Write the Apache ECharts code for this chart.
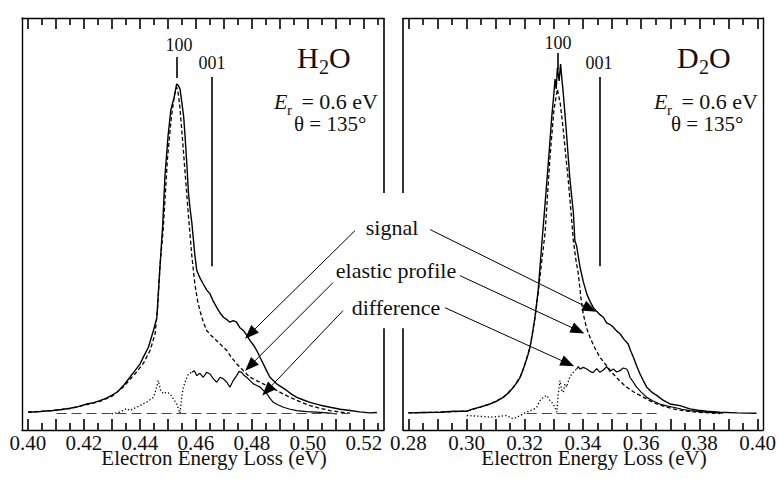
<!DOCTYPE html>
<html>
<head>
<meta charset="utf-8">
<script src="https://cdn.jsdelivr.net/npm/echarts@6/dist/echarts.min.js"></script>
<style>
  html, body { margin: 0; padding: 0; background: #fff; }
  #chart { width: 779px; height: 479px; }
</style>
</head>
<body>
<div id="chart"></div>
<script>
// H2O panel
const h2oSignalE = [0.4000, 0.4045, 0.4090, 0.4120, 0.4150, 0.4180, 0.4210, 0.4235, 0.4257, 0.4280, 0.4299, 0.4320, 0.4340, 0.4364, 0.4382, 0.4400, 0.4412, 0.4430, 0.4448, 0.4460, 0.4468, 0.4474, 0.4481, 0.4489, 0.4500, 0.4510, 0.4522, 0.4531, 0.4537, 0.4543, 0.4550, 0.4556, 0.4561, 0.4567, 0.4573, 0.4579, 0.4585, 0.4596, 0.4603, 0.4615, 0.4626, 0.4638, 0.4650, 0.4662, 0.4674, 0.4686, 0.4698, 0.4710, 0.4721, 0.4733, 0.4745, 0.4757, 0.4769, 0.4781, 0.4793, 0.4805, 0.4817, 0.4829, 0.4840, 0.4852, 0.4864, 0.4876, 0.4888, 0.4906, 0.4924, 0.4942, 0.4960, 0.4984, 0.5007, 0.5040, 0.5079, 0.5115, 0.5150, 0.5185, 0.5221, 0.5246];
const h2oSignalV = [0.4, 0.6, 0.9, 1.2, 1.6, 2.1, 2.9, 3.3, 3.9, 4.7, 5.5, 6.6, 8.4, 11.0, 13.0, 15.0, 17.1, 20.1, 25.2, 29.0, 40.0, 48.0, 57.0, 72.0, 84.0, 92.0, 96.0, 100.0, 99.5, 98.5, 94.0, 90.0, 84.0, 76.0, 67.0, 62.0, 58.0, 48.0, 43.3, 41.0, 39.3, 37.5, 36.3, 34.0, 32.2, 30.5, 29.2, 28.5, 27.7, 28.2, 27.7, 26.0, 25.2, 23.8, 22.1, 20.8, 19.1, 17.0, 15.1, 13.0, 11.0, 10.0, 9.0, 8.0, 7.0, 5.8, 4.9, 4.1, 3.4, 2.6, 1.9, 1.3, 0.9, 0.5, 0.2, 0.3];

const h2oElasticE = [0.4000, 0.4090, 0.4150, 0.4210, 0.4257, 0.4299, 0.4340, 0.4364, 0.4382, 0.4412, 0.4436, 0.4454, 0.4463, 0.4471, 0.4483, 0.4498, 0.4512, 0.4524, 0.4531, 0.4537, 0.4543, 0.4552, 0.4561, 0.4573, 0.4585, 0.4596, 0.4605, 0.4614, 0.4626, 0.4638, 0.4656, 0.4674, 0.4692, 0.4710, 0.4727, 0.4745, 0.4769, 0.4793, 0.4816, 0.4840, 0.4864, 0.4888, 0.4912, 0.4936, 0.4971, 0.5007, 0.5043, 0.5079, 0.5115, 0.5150];
const h2oElasticV = [0.4, 0.9, 1.5, 2.7, 3.7, 5.2, 8.0, 10.3, 12.0, 15.2, 19.1, 24.2, 32.0, 44.3, 56.1, 77.3, 90.0, 97.0, 99.0, 97.0, 92.4, 83.0, 73.1, 60.0, 47.9, 39.3, 34.5, 31.2, 27.8, 25.2, 23.5, 22.1, 20.6, 19.1, 17.0, 15.1, 13.0, 11.0, 10.0, 9.0, 8.0, 7.0, 5.9, 4.9, 3.6, 2.4, 1.6, 0.9, 0.4, 0.1];

const h2oDiffDotE = [0.4299, 0.4330, 0.4352, 0.4364, 0.4385, 0.4400, 0.4411, 0.4424, 0.4436, 0.4448, 0.4458, 0.4465, 0.4474, 0.4483, 0.4495, 0.4507, 0.4519, 0.4531, 0.4543, 0.4549, 0.4555, 0.4565, 0.4573, 0.4585];
const h2oDiffDotV = [-0.1, 0.5, 1.5, 0.9, 1.8, 2.4, 3.0, 3.4, 4.2, 4.9, 7.5, 10.0, 7.0, 6.0, 6.5, 6.0, 4.5, 2.9, 0.1, 5.0, 8.0, 10.5, 12.0, 12.5];

const h2oDiffE = [0.4585, 0.4594, 0.4603, 0.4614, 0.4626, 0.4638, 0.4650, 0.4662, 0.4674, 0.4686, 0.4698, 0.4710, 0.4721, 0.4733, 0.4745, 0.4754, 0.4763, 0.4772, 0.4781, 0.4793, 0.4805, 0.4817, 0.4829, 0.4841, 0.4853, 0.4865, 0.4876, 0.4894, 0.4912, 0.4936, 0.4960, 0.4995, 0.5031, 0.5067, 0.5103];
const h2oDiffV = [12.5, 13.0, 11.5, 12.2, 11.0, 12.5, 12.0, 10.5, 9.5, 11.0, 10.5, 9.5, 8.0, 10.0, 11.5, 12.8, 12.5, 11.5, 11.0, 10.0, 9.0, 8.5, 8.0, 7.0, 6.0, 4.5, 3.4, 2.6, 1.9, 1.3, 0.9, 0.6, 0.4, 0.2, -0.1];

const h2oBaseE = [0.4102, 0.5143];

// D2O panel
const d2oSignalE = [0.2800, 0.2850, 0.2909, 0.2955, 0.3001, 0.3023, 0.3050, 0.3081, 0.3105, 0.3126, 0.3145, 0.3161, 0.3175, 0.3184, 0.3193, 0.3201, 0.3210, 0.3218, 0.3227, 0.3235, 0.3246, 0.3258, 0.3270, 0.3281, 0.3292, 0.3300, 0.3304, 0.3308, 0.3312, 0.3318, 0.3323, 0.3328, 0.3332, 0.3338, 0.3344, 0.3350, 0.3355, 0.3361, 0.3367, 0.3372, 0.3378, 0.3384, 0.3390, 0.3401, 0.3413, 0.3424, 0.3435, 0.3447, 0.3458, 0.3470, 0.3481, 0.3493, 0.3504, 0.3516, 0.3527, 0.3541, 0.3555, 0.3564, 0.3573, 0.3584, 0.3596, 0.3607, 0.3619, 0.3636, 0.3653, 0.3676, 0.3699, 0.3733, 0.3767, 0.3795, 0.3825, 0.3870, 0.3930, 0.3996];
const d2oSignalV = [0.2, 0.3, 0.4, 0.7, 0.7, 1.4, 2.0, 2.9, 3.8, 4.9, 6.3, 8.0, 9.6, 11.0, 13.0, 15.1, 17.5, 20.1, 24.5, 29.2, 37.3, 50.9, 64.0, 76.2, 89.3, 97.0, 101.5, 98.5, 104.9, 100.9, 106.0, 101.0, 97.4, 91.0, 84.2, 77.0, 71.2, 66.0, 61.0, 52.4, 50.9, 47.5, 44.3, 40.0, 36.3, 34.0, 32.2, 31.0, 30.0, 29.2, 27.5, 27.0, 26.2, 25.0, 24.2, 22.5, 21.1, 19.0, 17.1, 14.5, 12.0, 10.0, 8.0, 6.5, 5.5, 4.0, 2.9, 2.4, 1.4, 1.0, 0.7, 0.4, 0.2, 0.1];

const d2oElasticE = [0.2800, 0.2909, 0.3001, 0.3081, 0.3126, 0.3161, 0.3184, 0.3201, 0.3218, 0.3235, 0.3246, 0.3258, 0.3270, 0.3287, 0.3300, 0.3312, 0.3322, 0.3332, 0.3340, 0.3349, 0.3358, 0.3367, 0.3375, 0.3384, 0.3393, 0.3401, 0.3412, 0.3424, 0.3441, 0.3458, 0.3481, 0.3504, 0.3527, 0.3550, 0.3573, 0.3596, 0.3625, 0.3653, 0.3681, 0.3710, 0.3750, 0.3790, 0.3870];
const d2oElasticV = [0.2, 0.4, 0.7, 2.9, 4.9, 8.0, 11.0, 15.1, 20.1, 29.0, 36.5, 46.0, 55.0, 78.2, 92.0, 98.4, 94.0, 86.3, 79.0, 71.2, 62.0, 52.4, 47.0, 42.3, 35.0, 30.2, 26.0, 23.1, 19.8, 17.1, 14.5, 12.0, 9.8, 8.0, 6.6, 5.5, 4.1, 2.9, 2.1, 1.4, 0.8, 0.4, 0.0];

const d2oDiffDotE = [0.3001, 0.3040, 0.3081, 0.3110, 0.3138, 0.3150, 0.3161, 0.3180, 0.3195, 0.3207, 0.3218, 0.3230, 0.3241, 0.3252, 0.3264, 0.3275, 0.3287, 0.3298, 0.3310, 0.3315, 0.3321, 0.3327, 0.3332, 0.3338, 0.3344, 0.3352, 0.3361, 0.3370, 0.3378];
const d2oDiffDotV = [-0.6, -0.8, -1.1, -0.9, -0.6, -1.2, -1.6, -0.8, -0.1, 0.4, 0.9, 1.2, 1.9, 3.9, 4.9, 5.5, 3.9, 2.9, 0.4, 6.0, 10.0, 7.0, 6.4, 9.0, 8.0, 10.5, 12.0, 12.8, 13.5];

const d2oDiffE = [0.3378, 0.3384, 0.3390, 0.3401, 0.3413, 0.3424, 0.3435, 0.3447, 0.3458, 0.3470, 0.3481, 0.3493, 0.3504, 0.3516, 0.3527, 0.3538, 0.3550, 0.3556, 0.3561, 0.3573, 0.3584, 0.3600, 0.3619, 0.3641, 0.3664, 0.3687, 0.3710, 0.3740, 0.3767, 0.3820, 0.3881];
const d2oDiffV = [13.5, 14.2, 13.5, 14.0, 13.5, 12.8, 12.4, 13.6, 12.5, 13.2, 14.2, 12.8, 13.5, 12.6, 13.0, 13.8, 13.5, 12.5, 11.0, 9.5, 8.0, 6.5, 4.9, 3.8, 2.9, 2.3, 1.9, 1.3, 0.9, 0.4, 0.1];

const d2oBaseE = [0.3207, 0.3653];

// tick values
const h2oMajor = [0.40, 0.41, 0.42, 0.43, 0.44, 0.45, 0.46, 0.47, 0.48, 0.49, 0.50, 0.51, 0.52];
const h2oMinor = [0.405, 0.415, 0.425, 0.435, 0.445, 0.455, 0.465, 0.475, 0.485, 0.495, 0.505, 0.515, 0.525];
const d2oMajor = [0.28, 0.29, 0.30, 0.31, 0.32, 0.33, 0.34, 0.35, 0.36, 0.37, 0.38, 0.39, 0.40];
const d2oMinor = [0.285, 0.295, 0.305, 0.315, 0.325, 0.335, 0.345, 0.355, 0.365, 0.375, 0.385, 0.395];
// labelled range, every 0.02
const h2oLabelRange = [0.40, 0.52];
const d2oLabelRange = [0.28, 0.40];

// peak marks: [position, top, bottom]
const h2oMark100 = [0.4533, 108.2, 101.8];
const h2oMark001 = [0.4656, 102.1, 44.7];
const d2oMark100 = [0.3312, 109.4, 104.2];
const d2oMark001 = [0.3457, 102.1, 44.7];

// arrows: [fromE, fromV, toE, toV] for signal, elastic, difference
const h2oArrows = [[0.5168, 55.5, 0.4793, 24.2], [0.5089, 39.7, 0.4793, 14.5], [0.5125, 31.2, 0.4854, 7.0]];
const d2oArrows = [[0.2875, 55.8, 0.3424, 31.8], [0.2978, 41.8, 0.3383, 25.2], [0.2926, 32.1, 0.3348, 15.2]];

// frame extents
const H2O_MIN = 0.39786, H2O_MAX = 0.52714;
const D2O_MIN = 0.27818, D2O_MAX = 0.40182;
const Y_MIN = -5, Y_MAX = 120;
const GAP_TOP = 66.9, GAP_BOTTOM = 25.9;

const FONT = '"Liberation Serif", "DejaVu Serif", serif';
const zip = (a, b) => a.map((v, i) => [v, b[i]]);

const PX_H2O = 2800, PX_D2O = 2912;
const TOP = 18, HEIGHT = 412;
const PX_Y = HEIGHT / (Y_MAX - Y_MIN);

function labelGrid(frameLeft, frameMin, px, range) {
  return {
    left: frameLeft + (range[0] - frameMin) * px,
    width: (range[1] - range[0]) * px,
    top: TOP, height: HEIGHT
  };
}

function frameX(grid, pos, min, max) {
  return {
    type: 'value', gridIndex: grid, position: pos, min: min, max: max,
    axisLine: { show: true, onZero: false, lineStyle: { color: '#000', width: 1.4 } },
    axisTick: { show: false }, axisLabel: { show: false }, splitLine: { show: false }
  };
}

function labelX(grid, range) {
  return {
    type: 'value', gridIndex: grid, position: 'bottom', min: range[0], max: range[1], interval: 0.02,
    axisLine: { show: false, onZero: false }, axisTick: { show: false },
    axisLabel: {
      show: true, margin: 2, color: '#111', fontFamily: FONT, fontSize: 21,
      formatter: v => v.toFixed(2)
    },
    splitLine: { show: false }
  };
}

function frameY(grid, pos) {
  return {
    type: 'value', gridIndex: grid, position: pos, min: Y_MIN, max: Y_MAX,
    axisLine: { show: true, onZero: false, lineStyle: { color: '#000', width: 1.4 } },
    axisTick: { show: false }, axisLabel: { show: false }, splitLine: { show: false }
  };
}

function hiddenY(grid) {
  return { type: 'value', gridIndex: grid, show: false, min: Y_MIN, max: Y_MAX };
}

function seg(a, b) {
  return [{ coord: a }, { coord: b }];
}

// inward tick segments on the bottom and top edges, in data units
function tickSegs(values, lenPx) {
  const len = lenPx / PX_Y;
  const out = [];
  values.forEach(v => {
    out.push(seg([v, Y_MIN], [v, Y_MIN + len]));
    out.push(seg([v, Y_MAX], [v, Y_MAX - len]));
  });
  return out;
}

function panelSeries(xi, yi, s, el, dd, df, base, mark100, mark001, arrows, edgeX, major, minor) {
  const common = { type: 'line', xAxisIndex: xi, yAxisIndex: yi, symbol: 'none', silent: true, animation: false };
  return [
    Object.assign({}, common, { data: s, lineStyle: { color: '#000', width: 1.4 } }),
    Object.assign({}, common, { data: el, lineStyle: { color: '#000', width: 1.3, type: [4, 2.5] } }),
    Object.assign({}, common, { data: dd, lineStyle: { color: '#000', width: 1.3, type: [1.3, 2.2] } }),
    Object.assign({}, common, { data: df, lineStyle: { color: '#000', width: 1.2 } }),
    Object.assign({}, common, {
      data: base.map(e => [e, 0]), clip: false,
      lineStyle: { color: '#444', width: 1, type: [10, 5] },
      markLine: {
        silent: true, animation: false, symbol: ['none', 'none'], precision: 6,
        label: { show: false },
        lineStyle: { color: '#000', width: 1.6, type: 'solid' },
        emphasis: { disabled: true },
        data: [
          seg([mark100[0], mark100[1]], [mark100[0], mark100[2]]),
          seg([mark001[0], mark001[1]], [mark001[0], mark001[2]]),
          seg([edgeX, Y_MAX], [edgeX, GAP_TOP]),
          seg([edgeX, GAP_BOTTOM], [edgeX, Y_MIN])
        ].concat(tickSegs(major, 11), tickSegs(minor, 7))
      }
    }),
    Object.assign({}, common, {
      data: [], clip: false,
      markLine: {
        silent: true, animation: false, symbol: ['none', 'triangle'], symbolSize: [11, 14],
        label: { show: false },
        lineStyle: { color: '#000', width: 1, type: 'solid' },
        itemStyle: { color: '#000' },
        emphasis: { disabled: true },
        data: arrows.map(a => seg([a[0], a[1]], [a[2], a[3]]))
      }
    })
  ];
}

function txt(x, y, text, size, align, italic) {
  return {
    type: 'text', x: x, y: y, silent: true,
    style: {
      text: text, fill: '#111', font: (italic ? 'italic ' : '') + size + 'px ' + FONT,
      textAlign: align || 'center', textVerticalAlign: 'middle'
    }
  };
}

const chart = echarts.init(document.getElementById('chart'), null, { renderer: 'svg' });
chart.setOption({
  animation: false,
  grid: [
    { left: 22, top: TOP, width: 362, height: HEIGHT },
    { left: 403, top: TOP, width: 360, height: HEIGHT },
    labelGrid(22, H2O_MIN, PX_H2O, h2oLabelRange),
    labelGrid(403, D2O_MIN, PX_D2O, d2oLabelRange)
  ],
  xAxis: [
    frameX(0, 'bottom', H2O_MIN, H2O_MAX),
    frameX(0, 'top', H2O_MIN, H2O_MAX),
    frameX(1, 'bottom', D2O_MIN, D2O_MAX),
    frameX(1, 'top', D2O_MIN, D2O_MAX),
    labelX(2, h2oLabelRange),
    labelX(3, d2oLabelRange)
  ],
  yAxis: [frameY(0, 'left'), frameY(1, 'right'), hiddenY(2), hiddenY(3)],
  series: [].concat(
    panelSeries(0, 0, zip(h2oSignalE, h2oSignalV), zip(h2oElasticE, h2oElasticV),
      zip(h2oDiffDotE, h2oDiffDotV), zip(h2oDiffE, h2oDiffV), h2oBaseE,
      h2oMark100, h2oMark001, h2oArrows, H2O_MAX, h2oMajor, h2oMinor),
    panelSeries(2, 1, zip(d2oSignalE, d2oSignalV), zip(d2oElasticE, d2oElasticV),
      zip(d2oDiffDotE, d2oDiffDotV), zip(d2oDiffE, d2oDiffV), d2oBaseE,
      d2oMark100, d2oMark001, d2oArrows, D2O_MIN, d2oMajor, d2oMinor)
  ),
  graphic: [
    txt(179, 45, '100', 18),
    txt(212, 63, '001', 18),
    txt(558, 43, '100', 18),
    txt(599, 63, '001', 18),
    // H2O / D2O with lowered subscript
    txt(297, 57, 'H', 30, 'left'),
    txt(319, 67, '2', 20, 'left'),
    txt(329, 57, 'O', 30, 'left'),
    txt(677, 57, 'D', 30, 'left'),
    txt(699, 67, '2', 20, 'left'),
    txt(709, 57, 'O', 30, 'left'),
    // E_r = 0.6 eV
    txt(274, 101, 'E', 22, 'left', true),
    txt(287, 110, 'r', 15, 'left'),
    txt(378, 101, '= 0.6 eV', 22, 'right'),
    txt(654, 101, 'E', 22, 'left', true),
    txt(667, 110, 'r', 15, 'left'),
    txt(758, 101, '= 0.6 eV', 22, 'right'),
    txt(294, 124, 'θ = 135°', 21, 'left'),
    txt(671, 124, 'θ = 135°', 21, 'left'),
    txt(392, 227, 'signal', 22),
    txt(396, 270, 'elastic profile', 22),
    txt(396, 307, 'difference', 22),
    txt(214, 458, 'Electron Energy Loss (eV)', 21),
    txt(594, 458, 'Electron Energy Loss (eV)', 21)
  ]
});
</script>
</body>
</html>
